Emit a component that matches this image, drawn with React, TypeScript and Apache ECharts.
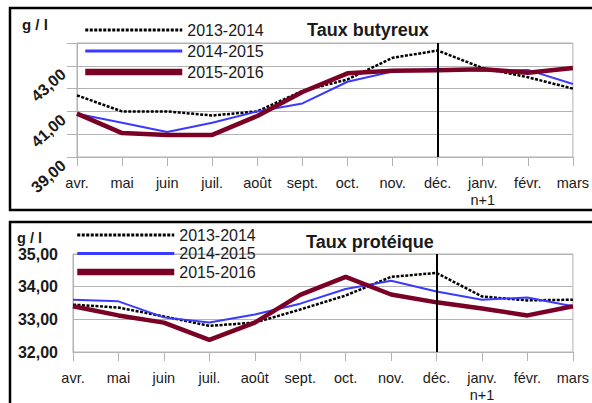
import { useEffect, useRef } from 'react';
import * as echarts from 'echarts';

const months = ['avr.', 'mai', 'juin', 'juil.', 'août', 'sept.', 'oct.', 'nov.', 'déc.', 'janv.\nn+1', 'févr.', 'mars'];
const seasons = ['2013-2014', '2014-2015', '2015-2016'];
const butyreux1314 = [41.7, 41.0, 41.0, 40.82, 41.0, 41.9, 42.4, 43.35, 43.67, 42.9, 42.5, 42.0];
const butyreux1415 = [40.9, 40.5, 40.1, 40.5, 41.0, 41.35, 42.3, 42.75, 42.87, 42.78, 42.82, 42.2];
const butyreux1516 = [40.9, 40.05, 39.97, 39.97, 40.8, 41.85, 42.67, 42.78, 42.8, 42.85, 42.7, 42.9];
const proteique1314 = [33.45, 33.36, 33.09, 32.8, 32.9, 33.3, 33.73, 34.3, 34.42, 33.7, 33.58, 33.6];
const proteique1415 = [33.6, 33.55, 33.06, 32.9, 33.15, 33.48, 33.93, 34.18, 33.85, 33.6, 33.67, 33.4];
const proteique1516 = [33.4, 33.12, 32.9, 32.37, 32.9, 33.75, 34.3, 33.76, 33.52, 33.33, 33.12, 33.4];
const titles = ['Taux butyreux', 'Taux protéique'];
const unit = 'g / l';
const markMonth = 'déc.';

const FONT = '"Liberation Sans", Arial, sans-serif';
const GRID = '#b3b3b3';
const TXT = '#1a1a1a';
const BLUE = '#3a3aff';
const RED = '#7a0025';

const fmt = (v: number) => v.toFixed(2).replace('.', ',');

export default function App() {
  const ref = useRef<HTMLDivElement>(null);
  useEffect(() => {
    const chart = echarts.init(ref.current!, null, { renderer: 'svg' });
    const lineStyles = [
      { color: '#000', width: 2.5, type: [3, 1.5] as any },
      { color: BLUE, width: 2 },
      { color: RED, width: 4.5 },
    ];
    const mkSeries = (name: string, data: number[], idx: number, style: any, mark: boolean) => ({
      type: 'line',
      name,
      data,
      xAxisIndex: idx,
      yAxisIndex: idx,
      symbol: 'none',
      color: style.color,
      lineStyle: style,
      z: 3,
      markLine: mark
        ? {
            silent: true,
            symbol: 'none',
            label: { show: false },
            lineStyle: { color: '#000', width: 2, type: 'solid' },
            data: [{ xAxis: markMonth }],
            z: 5,
          }
        : undefined,
    });
    const xAxisBase = (gridIndex: number) => ({
      type: 'category',
      gridIndex,
      data: months,
      boundaryGap: false,
      axisLine: { lineStyle: { color: GRID, width: 1 } },
      axisTick: { show: true, length: 9, lineStyle: { color: GRID } },
      axisLabel: {
        color: TXT,
        fontFamily: FONT,
        fontSize: 14.5,
        lineHeight: 17,
        margin: 17,
        interval: 0,
        verticalAlign: 'top',
      },
      splitLine: { show: false },
    });
    const legendData = seasons.map((n, i) => ({
      name: n,
      itemStyle: { opacity: 0 },
      lineStyle: i === 2 ? { width: 6.5 } : { width: 3 },
    }));
    const legendBase = {
      orient: 'vertical',
      padding: 0,
      itemWidth: 97,
      itemHeight: 16,
      itemStyle: { opacity: 0 },
      textStyle: { color: TXT, fontFamily: FONT, fontSize: 16, lineHeight: 16 },
      data: legendData,
      selectedMode: false,
    };
    const tStyle = (size: number) => ({ fontFamily: FONT, fontSize: size, fontWeight: 'bold', color: TXT });
    chart.setOption({
      animation: false,
      backgroundColor: '#fff',
      title: [
        { text: titles[0], left: 307, top: 21, padding: 0, textStyle: tStyle(18) },
        { text: titles[1], left: 306, top: 233, padding: 0, textStyle: tStyle(18) },
        { text: unit, left: 22, top: 17, padding: 0, textStyle: tStyle(15) },
        { text: unit, left: 17, top: 230, padding: 0, textStyle: tStyle(14.5) },
      ],
      legend: [
        { ...legendBase, left: 82, top: 22, itemGap: 5 },
        { ...legendBase, left: 74, top: 227, itemGap: 2.5 },
      ],
      grid: [
        { left: 77, right: 16, top: 43, height: 114, show: true, borderColor: GRID, borderWidth: 1, backgroundColor: 'transparent' },
        { left: 73, right: 16, top: 254, height: 99, show: true, borderColor: GRID, borderWidth: 1, backgroundColor: 'transparent' },
      ],
      xAxis: [xAxisBase(0), xAxisBase(1)],
      yAxis: [
        {
          type: 'value',
          gridIndex: 0,
          min: 39,
          max: 44,
          interval: 1,
          axisLine: { show: true, lineStyle: { color: GRID } },
          axisTick: { show: true, length: 10, lineStyle: { color: GRID } },
          splitLine: { lineStyle: { color: GRID, width: 1 } },
          axisLabel: {
            color: TXT,
            fontFamily: FONT,
            fontSize: 16,
            fontWeight: 'bold',
            rotate: 42,
            margin: 19,
            verticalAlign: 'top',
            formatter: (v: number) => (Math.round(v) % 2 === 1 && v < 44 ? fmt(v) : ''),
          },
        },
        {
          type: 'value',
          gridIndex: 1,
          min: 32,
          max: 35,
          interval: 1,
          axisLine: { show: true, lineStyle: { color: GRID } },
          axisTick: { show: false },
          splitLine: { lineStyle: { color: GRID, width: 1 } },
          axisLabel: {
            color: TXT,
            fontFamily: FONT,
            fontSize: 16,
            fontWeight: 'bold',
            margin: 15,
            formatter: (v: number) => fmt(v),
          },
        },
      ],
      graphic: [
        { type: 'rect', shape: { x: 10, y: 8, width: 600, height: 202 }, style: { fill: 'none', stroke: '#000', lineWidth: 2.5 }, z: 10, silent: true },
        { type: 'rect', shape: { x: 10, y: 222, width: 600, height: 300 }, style: { fill: 'none', stroke: '#000', lineWidth: 2.5 }, z: 10, silent: true },
      ],
      series: [
        mkSeries(seasons[0], butyreux1314, 0, lineStyles[0], true),
        mkSeries(seasons[1], butyreux1415, 0, lineStyles[1], false),
        mkSeries(seasons[2], butyreux1516, 0, lineStyles[2], false),
        mkSeries(seasons[0], proteique1314, 1, lineStyles[0], true),
        mkSeries(seasons[1], proteique1415, 1, lineStyles[1], false),
        mkSeries(seasons[2], proteique1516, 1, lineStyles[2], false),
      ],
    });
    return () => chart.dispose();
  }, []);
  return <div ref={ref} style={{ position: 'fixed', left: 0, top: 0, width: 592, height: 403 }} />;
}
